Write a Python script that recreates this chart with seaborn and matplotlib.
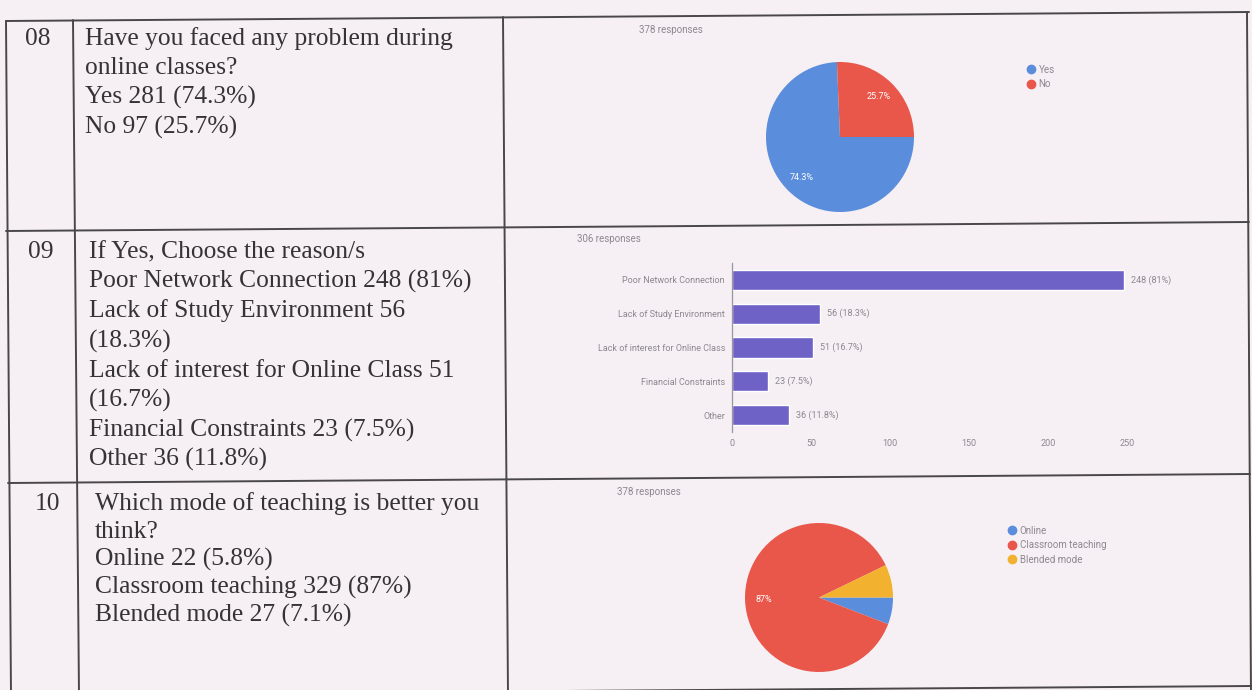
import matplotlib.pyplot as plt
import seaborn as sns
from matplotlib.lines import Line2D

W, H = 1252, 690

# survey data
q8_labels = ["Yes", "No"]
q8_counts = [281, 97]

q9_labels = ["Poor Network Connection", "Lack of Study Environment",
             "Lack of interest for Online Class", "Financial Constraints", "Other"]
q9_counts = [248, 56, 51, 23, 36]
q9_total = 306

q10_labels = ["Online", "Classroom teaching", "Blended mode"]
q10_counts = [22, 329, 27]

# question text in the table
q8_text = ["Have you faced any problem during", "online classes?",
           "Yes 281 (74.3%)", "No 97 (25.7%)"]
q9_text = ["If Yes, Choose the reason/s", "Poor Network Connection 248 (81%)",
           "Lack of Study Environment 56", "(18.3%)",
           "Lack of interest for Online Class 51", "(16.7%)",
           "Financial Constraints 23 (7.5%)", "Other 36 (11.8%)"]
q10_text = ["Which mode of teaching is better you", "think?",
            "Online 22 (5.8%)", "Classroom teaching 329 (87%)",
            "Blended mode 27 (7.1%)"]

paper = "#f6eff4"
ink = "#363336"
grid_ink = "#4a474a"
faint = "#8d8890"
blue = "#5a8ddc"
red = "#e9564a"
orange = "#f2b12e"
purple = "#6e62c6"
small = dict(family=["Roboto", "DejaVu Sans"], fontsize=7, color=faint)

sns.set_style("white")
plt.rcParams["font.family"] = ["Liberation Serif", "DejaVu Serif"]

fig = plt.figure(figsize=(W / 100, H / 100), dpi=100, facecolor=paper)
bg = fig.add_axes([0, 0, 1, 1])
bg.set_xlim(0, W)
bg.set_ylim(H, 0)
bg.axis("off")


def box(x, y, w, h):
    return [x / W, 1 - (y + h) / H, w / W, h / H]


# table grid (scan is a little rotated)
for (x0, y0), (x1, y1) in [((6, 21), (1249, 12)), ((6, 231), (1249, 222)),
                           ((8, 483), (1250, 474)), ((10, 695), (1252, 686)),
                           ((6, 21), (11, 695)), ((73, 20), (79, 695)),
                           ((503, 17), (508, 695)), ((1247, 12), (1251, 695))]:
    bg.plot([x0, x1], [y0, y1], color=grid_ink, lw=1.4)

fs = 18.4
for num, nx, lines, tx, y0, step in [("08", 25, q8_text, 85, 45, 29.5),
                                     ("09", 28, q9_text, 89, 258, 29.7),
                                     ("10", 35, q10_text, 95, 510, 28)]:
    bg.text(nx, y0, num, fontsize=fs, color=ink, va="baseline")
    for i, line in enumerate(lines):
        bg.text(tx, y0 + i * step, line, fontsize=fs, color=ink, va="baseline")


def pct_fmt(p):
    if p < 9:
        return ""
    return f"{p:.1f}".rstrip("0").rstrip(".") + "%"


def draw_pie(ax, counts, colors):
    ax.pie(counts, colors=colors, startangle=0, counterclock=False,
           autopct=pct_fmt, pctdistance=0.75,
           wedgeprops=dict(linewidth=0),
           textprops=dict(color="white", fontsize=6.5,
                          family=["Roboto", "DejaVu Sans"]))
    ax.set_xlim(-1, 1)
    ax.set_ylim(-1, 1)
    ax.set_aspect("auto")


def legend(labels, colors, x, y):
    handles = [Line2D([], [], ls="", marker="o", markersize=6, color=c)
               for c in colors]
    fig.legend(handles, labels, loc="upper left",
               bbox_to_anchor=(x / W, 1 - y / H), frameon=False,
               borderpad=0, handlelength=0.8, handletextpad=0.4,
               labelspacing=0.45, labelcolor=faint,
               prop=dict(family=["Roboto", "DejaVu Sans"], size=7))


# Q8 pie
bg.text(639, 30, f"{sum(q8_counts)} responses", va="center", **small)
ax1 = fig.add_axes(box(766, 62, 148, 150))
draw_pie(ax1, q8_counts, [blue, red])
legend(q8_labels, [blue, red], 1022, 60)

# Q9 bars
bg.text(577, 239, f"{q9_total} responses", va="center", **small)
ax2 = fig.add_axes(box(732, 263, 395, 169))
ax2.patch.set_alpha(0)
sns.barplot(x=q9_counts, y=q9_labels, orient="h", color=purple,
            saturation=1, width=0.6, ax=ax2)
ax2.set_xlim(0, 250)
ax2.set_ylim(4.5, -0.5)
ax2.set_xticks(range(0, 251, 50))
ax2.set_xlabel("")
ax2.set_ylabel("")
for s in ["top", "right", "bottom"]:
    ax2.spines[s].set_visible(False)
ax2.spines["left"].set_color("#9a96a0")
ax2.spines["left"].set_linewidth(0.9)
ax2.tick_params(length=0, labelsize=6.5, labelcolor=faint, pad=5)
for lab in ax2.get_xticklabels() + ax2.get_yticklabels():
    lab.set_family(["Roboto", "DejaVu Sans"])
bar_text = [f"{c} ({(f'{100 * c / q9_total:.1f}').rstrip('0').rstrip('.')}%)"
            for c in q9_counts]
ax2.bar_label(ax2.containers[0], labels=bar_text, padding=5,
              fontsize=6.5, color=faint, family=["Roboto", "DejaVu Sans"])

# Q10 pie
bg.text(617, 492, f"{sum(q10_counts)} responses", va="center", **small)
ax3 = fig.add_axes(box(745, 523, 148, 149))
draw_pie(ax3, q10_counts, [blue, red, orange])
legend(q10_labels, [blue, red, orange], 1003, 521)

fig.savefig("out.png", dpi=100, facecolor=paper)
